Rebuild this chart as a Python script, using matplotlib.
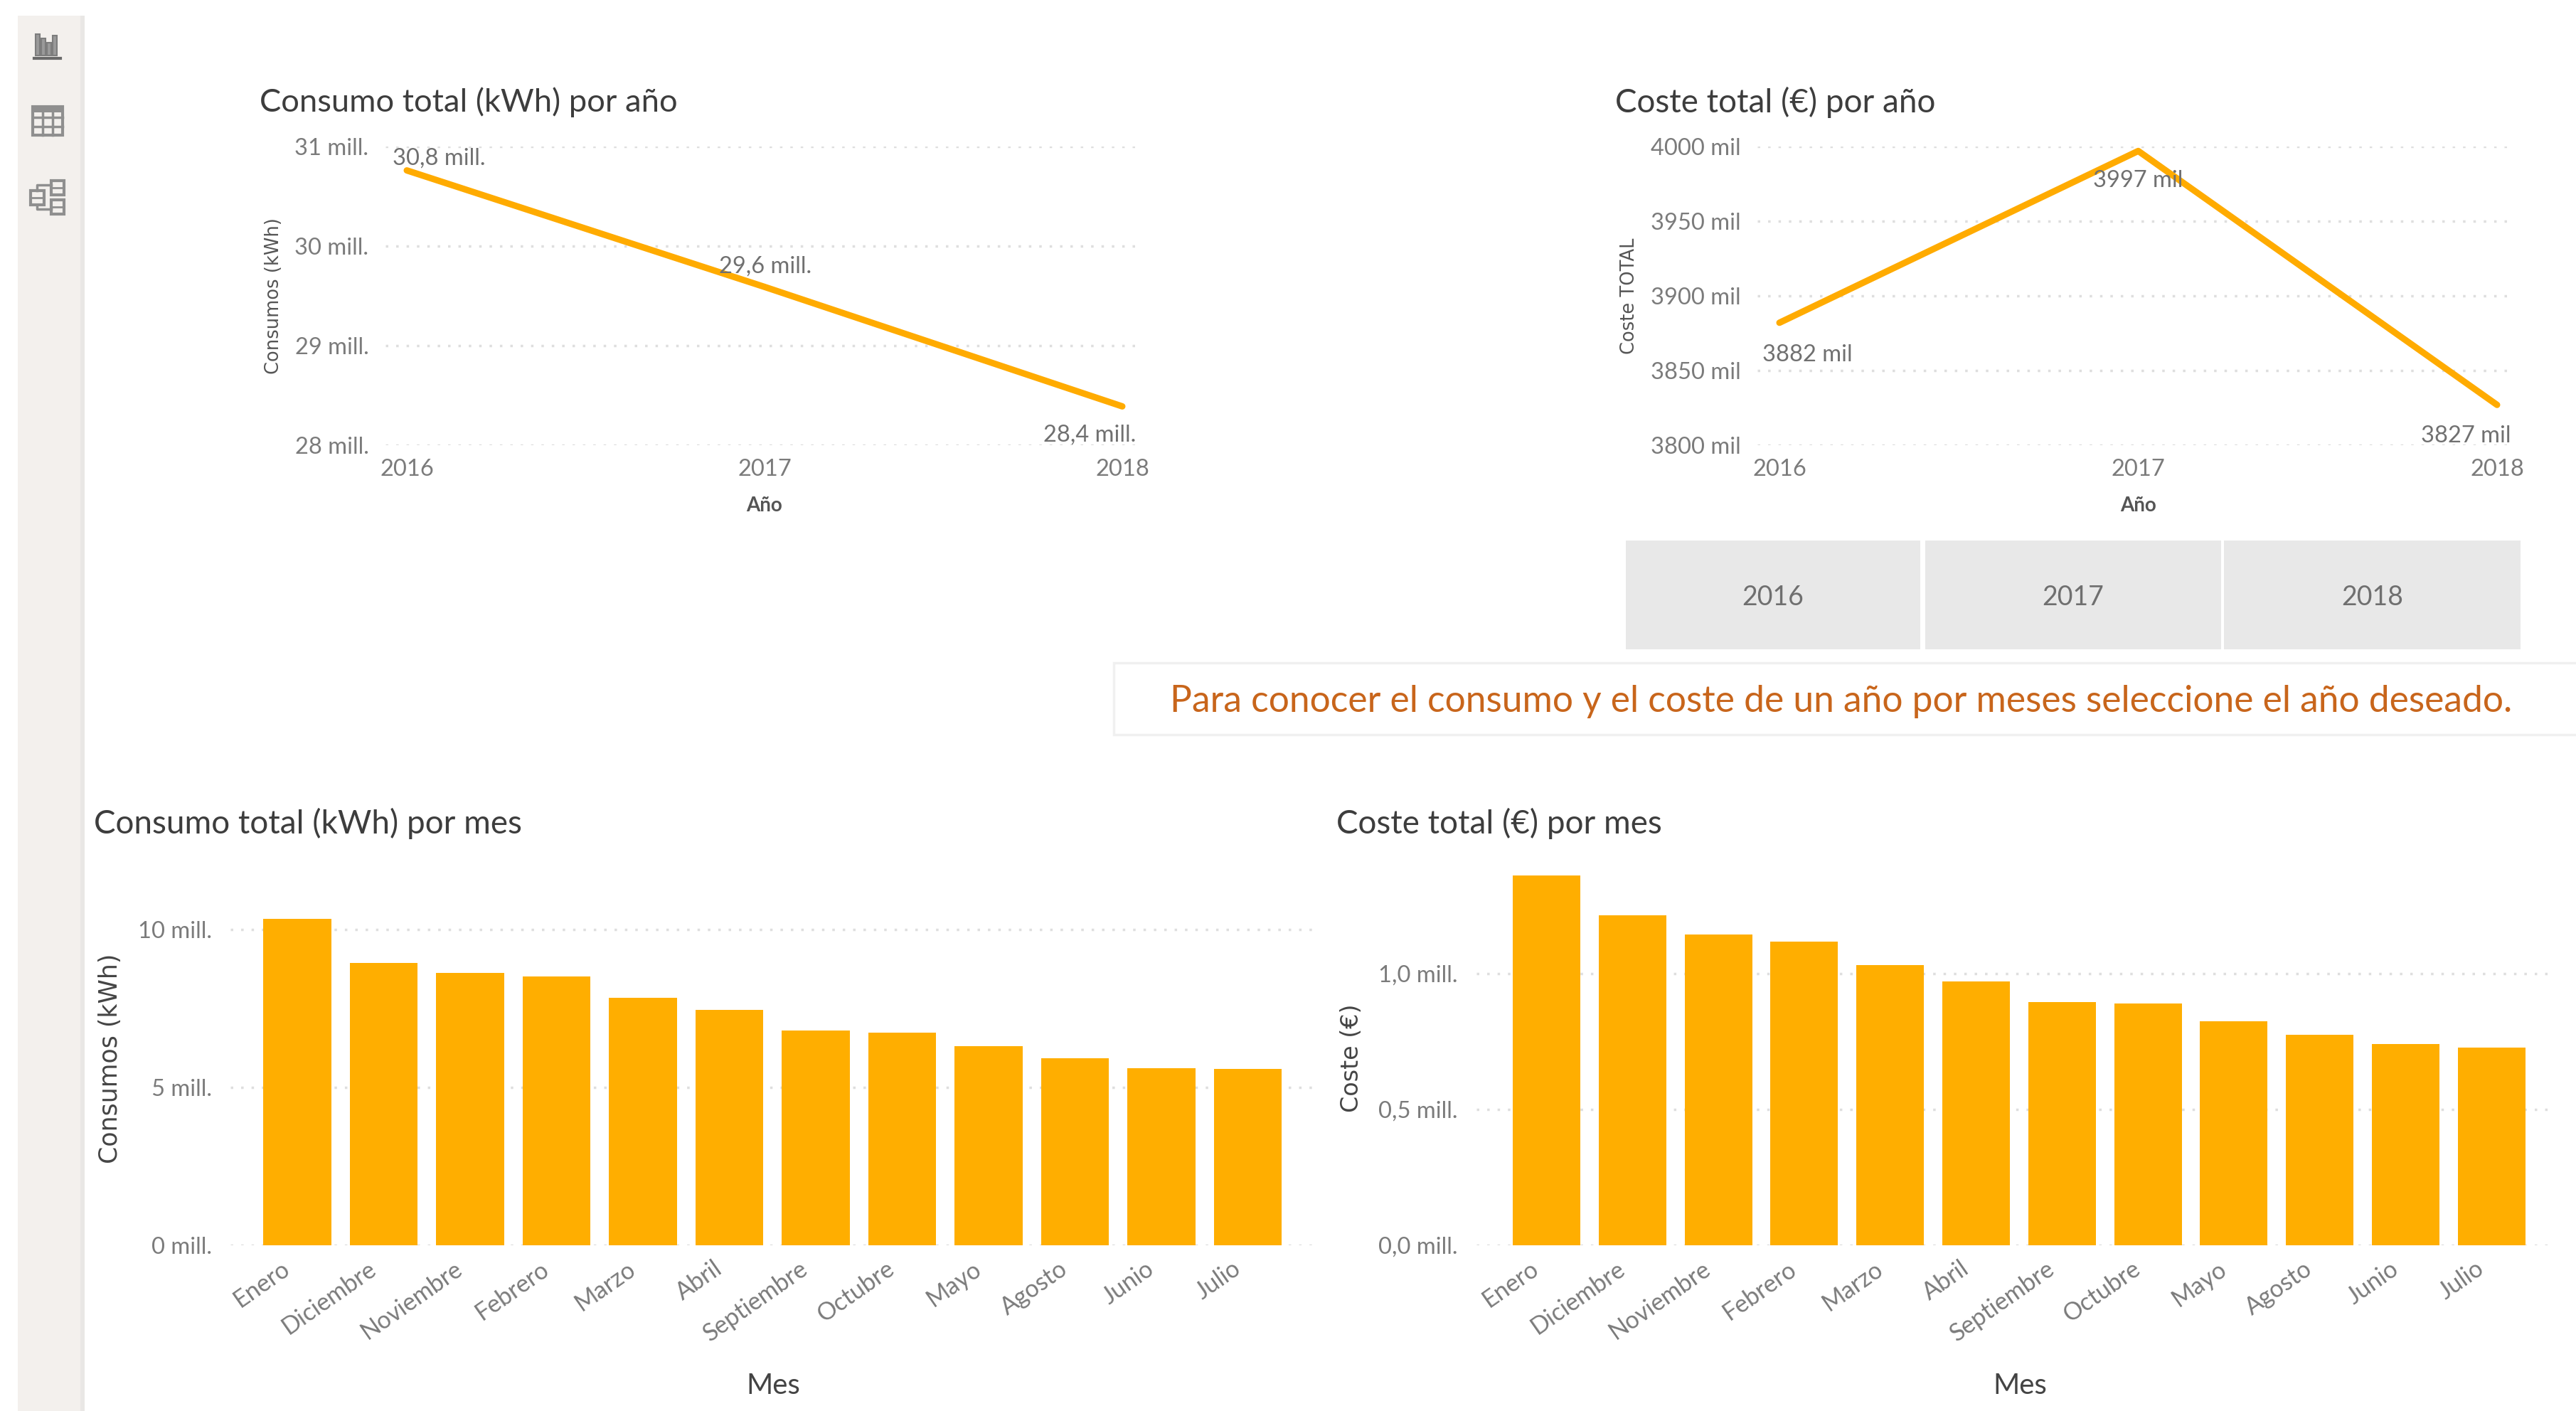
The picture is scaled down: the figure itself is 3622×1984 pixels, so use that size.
import matplotlib
matplotlib.use("Agg")
import matplotlib.pyplot as plt
from matplotlib.patches import Rectangle
from matplotlib.transforms import ScaledTranslation

W, H = 3623, 1984
ORANGE_LINE = "#ffab00"
ORANGE_BAR = "#ffae00"
GRID = "#dedede"
TICK = "#7b7b7b"
TITLE = "#3d3d3d"
plt.rcParams["font.family"] = ["Lato", "DejaVu Sans"]

years = ["2016", "2017", "2018"]
consumo_anual = [30.76, 29.59, 28.39]
consumo_labels = ["30,8 mill.", "29,6 mill.", "28,4 mill."]
consumo_ticks = [28, 29, 30, 31]
consumo_ticklabels = ["28 mill.", "29 mill.", "30 mill.", "31 mill."]
coste_anual = [3882, 3997, 3827]
coste_labels = ["3882 mil", "3997 mil", "3827 mil"]
coste_ticks = [3800, 3850, 3900, 3950, 4000]
coste_ticklabels = ["3800 mil", "3850 mil", "3900 mil", "3950 mil", "4000 mil"]

meses = ["Enero", "Diciembre", "Noviembre", "Febrero", "Marzo", "Abril",
         "Septiembre", "Octubre", "Mayo", "Agosto", "Junio", "Julio"]
consumo_mes = [10.34, 8.96, 8.64, 8.53, 7.84, 7.47, 6.80, 6.74, 6.32, 5.93, 5.61, 5.60]
coste_mes = [1.362, 1.214, 1.143, 1.118, 1.030, 0.972, 0.895, 0.889, 0.823, 0.775, 0.740, 0.727]
consumo_mes_ticks = [0, 5, 10]
consumo_mes_ticklabels = ["0 mill.", "5 mill.", "10 mill."]
coste_mes_ticks = [0.0, 0.5, 1.0]
coste_mes_ticklabels = ["0,0 mill.", "0,5 mill.", "1,0 mill."]

fig = plt.figure(figsize=(W / 100, H / 100), dpi=100, facecolor="white")


def axes_px(x0, y0, x1, y1, **kw):
    return fig.add_axes([x0 / W, 1 - y1 / H, (x1 - x0) / W, (y1 - y0) / H], **kw)


# Background layer in pixel coordinates
bg = axes_px(0, 0, W, H)
bg.set_xlim(0, W)
bg.set_ylim(H, 0)
bg.axis("off")
bg.add_patch(Rectangle((25, 22), 88, H - 22, fc="#f3f0ed", ec="none"))
bg.add_patch(Rectangle((113, 22), 6, H - 22, fc="#e9e7e5", ec="none"))
# Side icons
for x, top in zip([50, 58, 66, 74], [48, 54, 60, 50]):
    bg.add_patch(Rectangle((x, top), 6, 78 - top, fc="#9a9a9a", ec="#7d7d7d", lw=1.5))
bg.plot([48, 85], [82, 82], color="#6a6a6a", lw=3)
bg.add_patch(Rectangle((46, 150), 42, 40, fc="none", ec="#8f8f8f", lw=3))
bg.add_patch(Rectangle((46, 150), 42, 8, fc="#8f8f8f", ec="none"))
for x in (60, 74):
    bg.plot([x, x], [150, 190], color="#8f8f8f", lw=2.5)
for y in (165, 178):
    bg.plot([46, 88], [y, y], color="#8f8f8f", lw=2.5)
for x, y, w, h in [(43, 268, 19, 20), (72, 254, 18, 20), (72, 281, 18, 20)]:
    bg.add_patch(Rectangle((x, y), w, h, fc="none", ec="#8f8f8f", lw=3))
    bg.plot([x, x + w], [y + h / 2, y + h / 2], color="#8f8f8f", lw=2)
bg.plot([52, 52, 72], [268, 260, 260], color="#8f8f8f", lw=2.5)
bg.plot([52, 52, 72], [288, 294, 294], color="#8f8f8f", lw=2.5)

# Year slicer
for (x0, x1), year in zip([(2286, 2700), (2707, 3123), (3127, 3544)], years):
    bg.add_patch(Rectangle((x0, 760), x1 - x0, 153, fc="#e8e8e8", ec="none"))
    bg.text((x0 + x1) / 2, 840, year, ha="center", va="center", fontsize=27, color="#6f6f6f")

# Message box
bg.add_patch(Rectangle((1566, 932), W - 1566 + 10, 101, fc="white", ec="#f0f0f0", lw=2.5))
bg.text(1645, 986, "Para conocer el consumo y el coste de un año por meses seleccione el año deseado.",
        ha="left", va="center", fontsize=37.1, color="#c8651b")


def style(ax, ticks, ticklabels, fs):
    for s in ax.spines.values():
        s.set_visible(False)
    ax.set_yticks(ticks)
    ax.set_yticklabels(ticklabels, fontsize=fs, color=TICK)
    ax.tick_params(length=0)
    ax.grid(axis="y", color=GRID, lw=2.5, ls=(0, (1, 3.2)))
    ax.set_axisbelow(True)
    ax.patch.set_alpha(0)


def line_chart(box, x_range, ylim, values, labels, ticks, ticklabels, offsets,
               ylabel, ylabel_x, title, title_x, title_fs):
    x0, y0, x1, y1 = box
    ax = axes_px(x0, y0, x1, y1)
    pitch = (x_range[1] - x_range[0]) / 2
    ax.set_xlim((x0 - x_range[0]) / pitch, (x1 - x_range[0]) / pitch)
    ax.set_ylim(*ylim)
    style(ax, ticks, ticklabels, 23.5)
    pos = list(range(len(values)))
    ax.plot(pos, values, color=ORANGE_LINE, lw=6.5, solid_capstyle="round", zorder=3)
    ax.set_xticks(pos)
    ax.set_xticklabels(years, fontsize=23.5, color=TICK)
    ax.tick_params(axis="x", pad=14)
    ax.tick_params(axis="y", pad=17)
    for p, v, t, off in zip(pos, values, labels, offsets):
        ax.annotate(t, (p, v), xytext=(off[0] * 0.72, off[1] * 0.72), textcoords="offset points",
                    ha="center", va="center", fontsize=23.5, color="#707070", zorder=4)
    ax.set_xlabel("Año", fontsize=20, color="#555555", fontweight="bold")
    ax.xaxis.set_label_coords(((x_range[0] + x_range[1]) / 2 - x0) / (x1 - x0), -(711 - y1) / (y1 - y0), ax.transAxes)
    ax.xaxis.label.set_va("center")
    ax.set_ylabel(ylabel, fontsize=18.5, color="#555555", family="DejaVu Sans")
    ax.yaxis.set_label_coords((ylabel_x - x0) / (x1 - x0), 0.5, ax.transAxes)
    ax.yaxis.label.set_va("center")
    fig.text(title_x / W, 1 - 144 / H, title, fontsize=title_fs, color=TITLE, ha="left", va="center")
    return ax


line_chart((542, 206, 1600, 626), (572, 1578), (28, 31), consumo_anual, consumo_labels,
           consumo_ticks, consumo_ticklabels, [(45, 17), (1, 29), (-46, -40)],
           "Consumos (kWh)", 385, "Consumo total (kWh) por año", 365, 32.6)
line_chart((2471, 206, 3529, 626), (2502, 3511), (3800, 4000), coste_anual, coste_labels,
           coste_ticks, coste_ticklabels, [(39, -45), (0, -42), (-44, -44)],
           "Coste TOTAL", 2291, "Coste total (€) por año", 2271, 33)


def bar_chart(box, center0, pitch, width, ylim, values, ticks, ticklabels,
              ylabel, ylabel_x, ylabel_fs, xlabel_x, title, title_x):
    x0, y0, x1, y1 = box
    ax = axes_px(x0, y0, x1, y1)
    ax.set_xlim((x0 - center0) / pitch, (x1 - center0) / pitch)
    ax.set_ylim(*ylim)
    style(ax, ticks, ticklabels, 23.5)
    pos = list(range(len(values)))
    ax.bar(pos, values, width=width / pitch, color=ORANGE_BAR, zorder=3)
    ax.set_xticks(pos)
    ax.tick_params(axis="x", pad=12)
    ax.tick_params(axis="y", pad=19)
    ax.set_xticklabels(meses, fontsize=24.5, color=TICK, rotation=35, ha="right",
                       rotation_mode="anchor", va="top")
    shift = ScaledTranslation(-23 / 100, 0, fig.dpi_scale_trans)
    for lab in ax.get_xticklabels():
        lab.set_transform(lab.get_transform() + shift)
    ax.set_xlabel("Mes", fontsize=29, color="#444444")
    ax.xaxis.set_label_coords((xlabel_x - x0) / (x1 - x0), -(1949 - y1) / (y1 - y0), ax.transAxes)
    ax.xaxis.label.set_va("center")
    ax.set_ylabel(ylabel, fontsize=ylabel_fs, color="#444444", family="DejaVu Sans")
    ax.yaxis.set_label_coords((ylabel_x - x0) / (x1 - x0), (y1 - 1488) / (y1 - y0), ax.transAxes)
    ax.yaxis.label.set_va("center")
    fig.text(title_x / W, 1 - 1158 / H, title, fontsize=33, color=TITLE, ha="left", va="center")
    return ax


bar_chart((324, 1263, 1852, 1751), 418, 121.5, 95.5, (0, 11), consumo_mes,
          consumo_mes_ticks, consumo_mes_ticklabels, "Consumos (kWh)", 155, 25, 1087,
          "Consumo total (kWh) por mes", 132)
bar_chart((2076, 1216, 3591, 1751), 2174.5, 120.8, 95, (0, 1.4), coste_mes,
          coste_mes_ticks, coste_mes_ticklabels, "Coste (€)", 1900, 24, 2840,
          "Coste total (€) por mes", 1879)

fig.savefig("out.png", dpi=100, facecolor="white")
